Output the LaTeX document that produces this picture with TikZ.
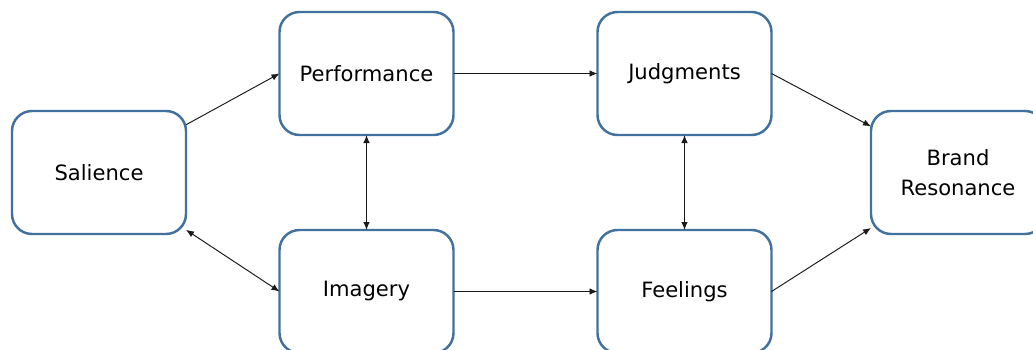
\documentclass[tikz,border=0pt]{standalone}
\usepackage{fontspec}
\setmainfont{DejaVu Sans}
\usepackage{tikz}
\usetikzlibrary{arrows.meta,positioning}
\definecolor{Steel}{HTML}{41719C}
\definecolor{Ink}{HTML}{1A1A1A}

\begin{document}
\begin{tikzpicture}[
  node distance=1.9cm and 2.88cm,
  stagebox/.style={
    draw=Steel,
    line width=1.4pt,
    rounded corners=4mm,
    fill=white,
    align=center,
    outer sep=0pt,
    minimum width=3.48cm,
    minimum height=2.46cm,
    font=\fontsize{12}{17}\selectfont
  },
  link/.style={-{Latex[length=1.6mm,width=1.3mm]},line width=0.55pt,draw=Ink},
  twoway/.style={{Latex[length=1.6mm,width=1.3mm]}-{Latex[length=1.6mm,width=1.3mm]},line width=0.55pt,draw=Ink}
]
  \useasboundingbox (0,0) rectangle (20.66,-6.98);
  \node[stagebox] (sal) at (1.98,-3.45) {Salience};
  \node[stagebox] (perf) at (7.33,-1.47) {Performance};
  \node[stagebox, below=of perf] (img) {Imagery};
  \node[stagebox, right=of perf] (judg) {Judgments};
  \node[stagebox, below=of judg] (feel) {Feelings};
  \node[stagebox] (brand) at (19.16,-3.45) {Brand\\Resonance};

  \draw[link] (sal) -- (perf.west);
  \draw[twoway] (sal) -- (img.west);
  \draw[twoway] (perf) -- (img);
  \draw[link] (perf) -- (judg);
  \draw[link] (img) -- (feel);
  \draw[twoway] (judg) -- (feel);
  \draw[link] (judg.east) -- (brand);
  \draw[link] (feel.east) -- (brand);
\end{tikzpicture}
\end{document}
